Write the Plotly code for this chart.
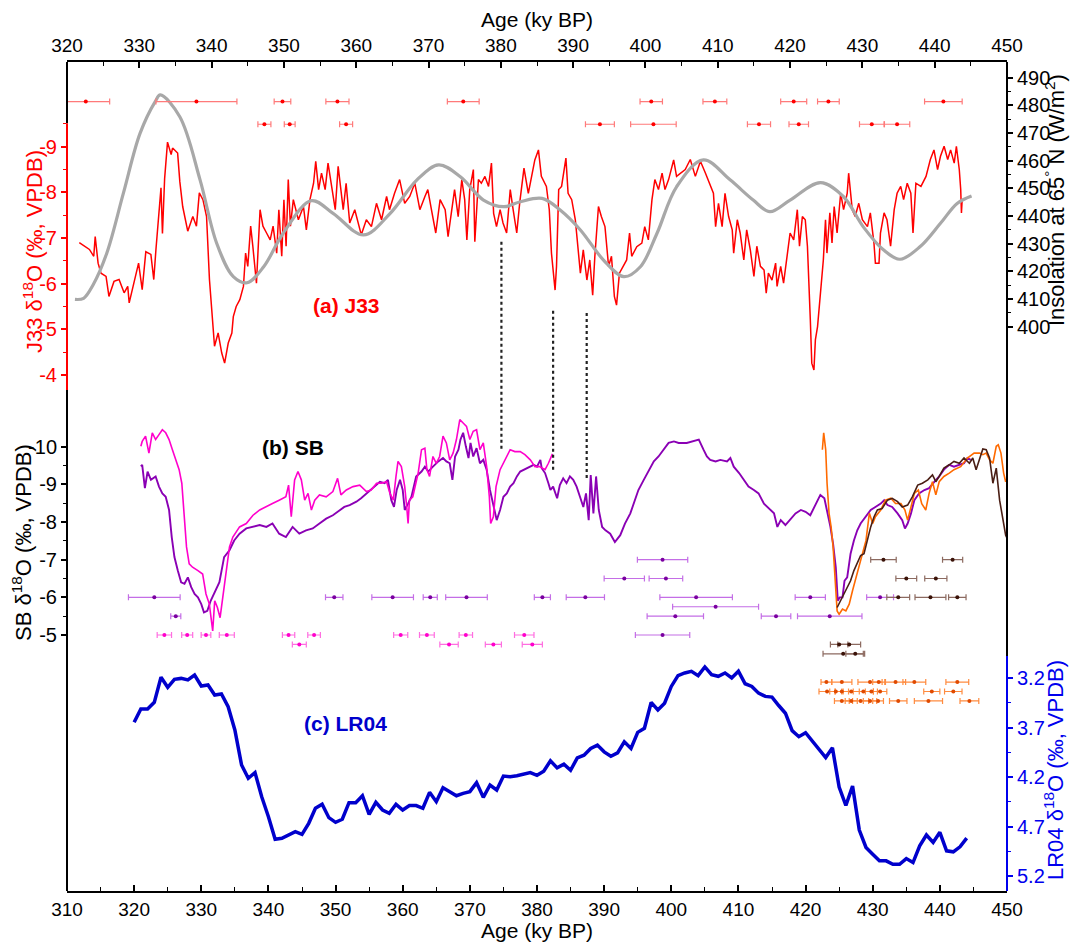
import plotly.graph_objects as go

# ---------------- J33 stalagmite d18O (upper age scale) ----------------
j33_age = [321.7, 323.1, 323.7, 323.9, 324.3, 324.7, 325.4, 325.8, 326.5, 327.2, 327.9, 328.4, 328.6, 329.3,
           329.9, 330.4, 330.9, 331.6, 332.0, 332.3, 333.0, 333.2, 333.5, 333.9, 334.4, 334.6, 335.3, 335.6,
           336.0, 336.7, 337.4, 337.9, 338.3, 338.8, 339.3, 339.7, 340.2, 340.4, 340.9, 341.4, 341.8, 342.3,
           342.8, 343.0, 343.4, 343.9, 344.4, 344.7, 345.0, 345.4, 345.7, 346.2, 346.7, 347.1, 347.6, 348.1,
           348.5, 349.0, 349.3, 349.7, 350.0, 350.3, 350.6, 350.9, 351.3, 352.0, 352.7, 353.1, 353.6, 354.1,
           354.4, 354.8, 355.2, 355.7, 356.1, 356.6, 357.1, 357.5, 358.2, 358.6, 359.1, 359.8, 360.7, 361.4,
           362.1, 362.8, 363.5, 364.2, 364.6, 365.3, 366.0, 366.7, 367.4, 368.1, 368.8, 369.5, 369.9, 370.4,
           371.0, 371.6, 372.3, 372.7, 373.2, 373.6, 374.1, 374.6, 375.0, 375.3, 375.7, 376.2, 376.4, 376.9,
           377.3, 377.8, 378.3, 378.7, 379.0, 379.4, 379.9, 380.3, 380.8, 381.3, 381.7, 382.2, 382.6, 383.2,
           383.8, 384.3, 384.7, 385.2, 385.6, 386.3, 386.7, 387.0, 387.3, 387.5, 387.7, 388.0, 388.4, 389.0,
           389.3, 389.8, 390.3, 390.7, 391.0, 391.4, 391.9, 392.3, 392.7, 393.0, 393.5, 393.9, 394.4, 394.9,
           395.3, 395.7, 396.0, 396.4, 396.9, 397.4, 397.8, 398.1, 398.8, 399.5, 399.9, 400.4, 400.9, 401.3,
           401.8, 402.3, 402.7, 403.2, 403.9, 404.3, 405.5, 406.2, 406.9, 407.6, 408.3, 409.0, 409.4, 409.7,
           410.1, 410.6, 411.0, 411.5, 412.0, 412.2, 412.7, 413.1, 413.6, 414.0, 414.5, 415.0, 415.4, 415.9,
           416.4, 416.7, 417.0, 417.5, 418.0, 418.2, 418.7, 419.1, 419.6, 420.0, 420.5, 421.0, 421.3, 421.7,
           422.1, 422.4, 422.8, 423.0, 423.3, 423.5, 423.8, 424.2, 424.6, 424.9, 425.1, 425.5, 425.8, 426.1,
           426.5, 427.0, 427.4, 427.9, 428.1, 428.6, 429.0, 429.5, 430.0, 430.7, 431.1, 431.6, 431.8, 432.3,
           432.5, 433.0, 433.4, 433.9, 434.4, 434.8, 435.3, 435.7, 436.2, 436.7, 437.0, 437.4, 438.1, 438.8,
           439.4, 439.9, 440.4, 440.8, 441.3, 441.8, 442.2, 442.7, 443.0, 443.4, 443.6, 443.7, 443.8]
j33_d18o = [-6.9, -6.75, -6.6, -7.03, -6.45, -6.23, -6.16, -5.72, -6.05, -6.09, -5.8, -5.94, -5.58, -6.05,
            -6.45, -5.87, -6.7, -6.64, -6.09, -6.75, -8.1, -7.1, -8.3, -9.1, -8.83, -8.97, -8.86, -8.24,
            -7.69, -7.15, -7.47, -7.26, -7.99, -7.84, -7.47, -6.09, -5.07, -4.63, -4.92, -4.48, -4.26, -4.7,
            -4.92, -5.28, -5.5, -5.65, -5.94, -6.67, -6.38, -7.26, -6.82, -6.01, -7.62, -7.26, -7.11, -6.96,
            -7.26, -6.67, -7.62, -6.6, -7.84, -6.82, -8.28, -7.26, -7.84, -7.4, -7.69, -7.18, -7.84, -8.2,
            -8.68, -8.06, -8.42, -8.06, -8.64, -8.13, -7.62, -8.57, -7.62, -8.2, -7.33, -7.62, -7.07, -7.4,
            -7.25, -7.76, -7.4, -7.91, -7.62, -7.98, -8.28, -7.76, -7.91, -8.2, -7.62, -7.91, -8.06, -7.62,
            -7.11, -7.84, -7.62, -7.03, -7.62, -8.06, -7.47, -8.28, -7.84, -6.96, -8.06, -8.5, -6.92, -8.28,
            -8.2, -8.35, -8.13, -8.64, -7.54, -7.25, -7.62, -7.33, -7.11, -8.06, -7.62, -7.11, -7.76, -8.53,
            -7.98, -8.35, -8.71, -8.93, -8.35, -8.13, -7.62, -6.67, -6.08, -5.86, -6.38, -8.06, -8.13, -8.75,
            -7.98, -7.84, -7.4, -6.67, -6.23, -6.74, -6.08, -6.52, -5.75, -6.6, -7.69, -7.47, -7.25, -6.38,
            -6.6, -5.72, -5.53, -6.23, -6.38, -6.52, -7.11, -6.6, -6.81, -6.89, -7.25, -6.96, -7.84, -8.28,
            -8.06, -8.42, -8.06, -8.28, -8.71, -8.35, -8.5, -8.72, -8.35, -8.68, -8.42, -8.13, -7.98, -7.25,
            -7.76, -7.25, -7.98, -7.47, -7.18, -6.67, -7.4, -7.11, -6.52, -7.18, -6.74, -6.16, -6.82, -6.38,
            -6.3, -5.79, -6.23, -6.08, -6.45, -5.94, -6.38, -6.01, -6.67, -7.11, -6.96, -7.62, -6.82, -7.47,
            -7.4, -6.82, -5.21, -4.26, -4.11, -4.77, -5.06, -5.79, -6.52, -7.4, -6.67, -7.55, -6.89, -7.69,
            -7.11, -7.98, -7.62, -7.98, -8.42, -7.62, -7.47, -7.76, -7.4, -7.25, -7.55, -6.89, -6.45, -6.45,
            -7.11, -7.55, -7.4, -6.82, -7.62, -7.98, -8.13, -7.84, -8.2, -7.98, -7.11, -8.2, -8.13, -8.35,
            -8.72, -8.93, -8.5, -8.79, -9.01, -8.72, -8.93, -8.64, -9.01, -8.5, -8.06, -7.55, -7.84]

# ---------------- 65 N summer insolation (upper age scale) ----------------
ins_age = [321.1, 322.3, 323.6, 325.5, 327.8, 330.1, 332.2, 332.9, 335.6, 338.4, 340.7, 343.0, 344.9, 347.2,
           349.9, 353.8, 356.8, 361.0, 364.7, 368.4, 371.4, 374.4, 377.6, 380.4, 382.7, 385.7, 388.2, 391.0,
           394.2, 397.0, 399.3, 401.6, 404.3, 408.0, 411.7, 414.9, 417.2, 420.0, 424.2, 427.4, 430.1, 432.9,
           435.2, 438.0, 440.8, 443.1, 445.1]
ins_wm2 = [409.8, 410.2, 415.0, 426.5, 448.2, 469.8, 481.3, 483.7, 475.8, 453.0, 430.1, 418.0, 415.8, 421.6,
           433.7, 445.5, 440.9, 433.1, 440.9, 453.0, 458.4, 454.1, 445.7, 443.3, 445.1, 446.3, 442.1, 434.9,
           424.0, 418.0, 421.6, 433.7, 450.5, 460.2, 453.0, 445.7, 441.5, 445.7, 452.0, 446.9, 436.1, 427.7,
           424.3, 428.9, 437.3, 444.5, 447.2]

# ---------------- J33 U-Th ages (two rows) ----------------
j33_date_age_1 = [322.6, 337.9, 349.8, 357.4, 374.8, 400.8, 409.6, 420.5, 425.3, 441.2]
j33_date_err_1 = [3.3, 5.6, 1.15, 1.6, 2.2, 1.55, 1.65, 1.8, 1.5, 2.6]
j33_date_age_2 = [347.3, 350.8, 358.6, 393.7, 401.1, 415.7, 421.2, 431.3, 434.8]
j33_date_err_2 = [0.9, 0.75, 0.9, 2.0, 3.15, 1.6, 1.35, 1.7, 1.75]
j33_date_row = [481.3, 473.1]

# ---------------- Sanbao (SB) records (lower age scale) ----------------
sb_purple_age = [321.0, 321.2, 321.6, 322.0, 322.5, 323.2, 323.7, 324.2, 324.7, 325.2, 325.6, 326.0, 326.5, 327.0,
                 327.5, 328.0, 328.5, 329.0, 329.5, 330.0, 330.4, 330.9, 331.4, 331.9, 332.7, 333.4, 334.2, 334.9,
                 335.7, 336.7, 337.7, 338.7, 339.7, 340.6, 341.6, 342.6, 343.6, 344.6, 345.6, 346.6, 347.6, 348.6,
                 349.6, 350.6, 351.3, 352.1, 353.1, 353.8, 354.6, 355.3, 356.1, 356.6, 357.3, 357.8, 358.3, 358.7,
                 359.1, 359.6, 360.0, 360.3, 360.8, 361.3, 362.0, 362.8, 363.3, 363.8, 364.5, 365.3, 366.0, 366.5,
                 367.0, 367.4, 367.8, 368.3, 368.6, 369.0, 369.4, 369.8, 370.1, 370.5, 371.0, 371.5, 372.0, 372.5,
                 373.0, 373.5, 374.0, 374.5, 375.0, 375.5, 376.0, 376.5, 377.0, 377.5, 378.0, 378.5, 379.0, 379.5,
                 380.0, 380.5, 380.7, 381.2, 381.7, 382.0, 382.4, 383.0, 383.4, 383.9, 384.4, 384.9, 385.4, 385.9,
                 386.4, 386.9, 387.3, 387.7, 388.0, 388.4, 388.8, 389.2, 389.7, 390.2, 390.9, 391.6, 392.4, 393.1,
                 393.9, 394.6, 395.1, 395.9, 396.6, 397.4, 398.1, 398.9, 399.6, 400.4, 401.1, 402.3, 403.3, 404.1,
                 404.8, 405.3, 405.8, 406.6, 407.3, 408.3, 408.8, 409.3, 410.1, 410.8, 411.5, 412.3, 413.0, 413.8,
                 414.5, 415.3, 415.8, 416.3, 417.0, 417.8, 418.5, 419.3, 420.0, 420.7, 421.5, 422.2, 422.8, 423.2,
                 423.7, 424.1, 424.5, 424.8, 425.1, 425.5, 425.8, 426.2, 426.7, 427.2, 427.7, 428.2, 428.9, 429.7,
                 430.4, 431.2, 431.7, 432.2, 432.9, 433.7, 434.4, 434.8, 435.2, 435.7, 436.2, 436.9, 437.7, 438.4,
                 439.2, 439.9, 440.6, 441.4, 442.1, 442.9, 443.6, 444.1, 444.6]
sb_purple_d18o = [-9.48, -9.52, -8.9, -9.34, -9.12, -9.21, -8.94, -8.76, -8.67, -8.32, -7.6, -7.07, -6.71, -6.4,
                  -6.36, -6.53, -6.27, -6.09, -6.0, -5.82, -5.6, -5.64, -5.91, -6.09, -6.4, -7.07, -7.25, -7.51,
                  -7.69, -7.83, -7.87, -7.92, -7.87, -7.96, -7.69, -7.6, -7.87, -7.69, -7.78, -7.83, -7.96, -8.09,
                  -8.18, -8.32, -8.4, -8.45, -8.54, -8.63, -8.76, -8.85, -8.98, -9.07, -9.03, -9.12, -8.58, -8.4,
                  -8.85, -9.12, -8.85, -8.32, -8.49, -8.67, -9.21, -9.34, -9.47, -9.34, -9.47, -9.61, -9.7, -9.61,
                  -9.56, -9.12, -9.74, -9.92, -10.19, -10.37, -10.01, -9.7, -10.1, -9.74, -9.96, -9.56, -9.65, -9.39,
                  -8.85, -8.4, -8.05, -8.32, -8.67, -8.76, -8.94, -9.03, -9.21, -9.34, -9.39, -9.43, -9.47, -9.52,
                  -9.47, -9.65, -9.43, -9.3, -9.03, -8.85, -8.94, -8.63, -8.98, -9.16, -9.03, -9.21, -9.12, -8.94,
                  -8.67, -8.4, -8.76, -8.05, -9.25, -8.23, -9.21, -8.32, -7.87, -7.78, -7.69, -7.47, -7.65, -7.96,
                  -8.23, -8.58, -8.85, -9.12, -9.34, -9.61, -9.74, -9.92, -10.1, -10.14, -10.1, -10.1, -10.14, -10.19,
                  -9.92, -9.74, -9.65, -9.61, -9.65, -9.61, -9.7, -9.47, -9.3, -9.12, -8.94, -8.85, -8.76, -8.49,
                  -8.36, -8.23, -7.87, -8.05, -7.92, -8.09, -8.23, -8.32, -8.27, -8.18, -8.49, -8.72, -8.63, -8.32,
                  -7.87, -7.42, -6.8, -5.91, -6.0, -6.0, -6.44, -6.53, -7.16, -7.51, -7.78, -7.96, -8.14, -8.32,
                  -8.4, -8.49, -8.58, -8.45, -8.4, -8.23, -8.05, -7.83, -7.96, -8.23, -8.58, -8.76, -8.85, -8.9,
                  -9.07, -9.21, -9.39, -9.52, -9.47, -9.52, -9.56, -9.7, -9.65]

sb_magenta_age = [321.0, 321.2, 321.7, 322.2, 322.7, 323.2, 323.7, 324.2, 324.7, 325.2, 325.7, 326.2, 326.7, 327.1,
                  327.5, 327.8, 328.2, 328.7, 329.5, 330.2, 330.7, 331.2, 331.7, 332.0, 332.4, 332.8, 333.2, 333.7,
                  334.2, 334.7, 335.7, 336.7, 337.7, 338.7, 339.7, 340.6, 341.6, 342.6, 343.0, 343.4, 343.9, 344.4,
                  344.9, 345.4, 345.9, 346.4, 346.9, 347.6, 348.6, 349.6, 350.3, 350.8, 351.6, 352.6, 353.6, 354.6,
                  355.3, 356.1, 356.8, 357.6, 358.1, 358.6, 359.0, 359.3, 359.8, 360.3, 360.6, 360.8, 361.0, 361.5,
                  362.3, 362.8, 363.3, 363.6, 364.0, 364.5, 365.0, 365.5, 366.0, 366.5, 367.0, 367.5, 368.0, 368.5,
                  369.0, 369.5, 370.0, 370.5, 371.0, 371.5, 372.0, 372.5, 372.9, 373.1, 373.5, 373.9, 374.5, 375.2,
                  376.0, 376.7, 377.5, 378.2, 379.0, 379.7, 380.4, 381.2, 381.7, 382.3]
sb_magenta_d18o = [-10.01, -10.14, -10.28, -9.83, -10.37, -10.19, -10.32, -10.45, -10.37, -10.19, -9.92, -9.65, -9.39,
                   -9.03, -8.14, -7.34, -6.89, -6.8, -6.71, -6.62, -6.09, -5.82, -5.11, -5.91, -5.73, -5.46, -6.0,
                   -6.62, -7.34, -7.6, -7.87, -7.96, -8.18, -8.32, -8.4, -8.49, -8.58, -8.67, -8.98, -8.14, -9.12,
                   -9.34, -9.12, -8.58, -8.76, -8.32, -8.58, -8.72, -8.67, -8.81, -9.16, -8.72, -8.85, -8.94, -8.98,
                   -8.81, -8.85, -9.03, -9.03, -9.07, -8.76, -8.58, -9.21, -9.61, -9.47, -8.94, -8.4, -7.96, -8.58,
                   -8.67, -9.3, -9.92, -9.96, -9.39, -9.21, -9.74, -9.56, -9.74, -10.28, -10.1, -9.65, -9.83, -10.19,
                   -10.72, -10.63, -10.54, -10.19, -10.41, -10.45, -9.92, -10.1, -9.47, -8.67, -7.96, -8.14, -8.94,
                   -9.39, -9.65, -9.92, -9.87, -9.87, -9.79, -9.65, -9.47, -9.47, -9.39, -9.56, -9.81]

sb_orange_age = [422.5, 422.7, 423.0, 423.2, 423.5, 423.8, 424.1, 424.5, 424.7, 425.0, 425.5, 426.0, 426.5, 427.0,
                 427.5, 428.0, 428.5, 429.0, 429.5, 430.0, 430.4, 431.2, 431.9, 432.7, 433.4, 434.2, 434.8, 435.2,
                 435.7, 436.2, 436.8, 437.3, 437.9, 438.4, 438.9, 439.4, 439.9, 440.6, 441.4, 442.1, 443.1, 444.1,
                 445.1, 445.9, 446.4, 446.9, 447.4, 447.9, 448.4, 448.7, 449.1, 449.5, 449.8, 450.2]
sb_orange_d18o = [-9.92, -10.37, -9.92, -9.03, -8.23, -7.87, -7.34, -6.27, -5.64, -5.55, -5.69, -5.64, -5.82, -6.18,
                  -6.53, -6.89, -7.16, -7.51, -8.23, -7.96, -8.14, -8.32, -8.58, -8.63, -8.49, -8.49, -8.32, -8.05,
                  -8.4, -8.76, -8.85, -8.49, -8.32, -8.76, -9.07, -8.72, -9.07, -9.21, -9.3, -9.39, -9.47, -9.7,
                  -9.83, -9.83, -9.79, -9.83, -9.65, -9.56, -10.01, -10.05, -9.83, -9.3, -9.07, -9.25]

sb_brown_age = [424.7, 425.2, 425.7, 426.2, 426.7, 427.2, 427.7, 428.2, 428.7, 429.2, 429.7, 430.2, 430.7, 431.4,
                432.2, 432.9, 433.7, 434.4, 435.2, 435.9, 436.7, 437.4, 438.2, 438.9, 439.4, 439.9, 440.6, 441.4,
                442.1, 442.9, 443.6, 444.4, 444.9, 445.4, 445.9, 446.4, 446.9, 447.4, 447.9, 448.4, 448.9, 449.4,
                449.8, 450.2]
sb_brown_d18o = [-5.73, -5.91, -6.09, -6.27, -6.44, -6.71, -6.89, -7.11, -7.16, -7.51, -7.87, -8.14, -8.32, -8.36,
                 -8.58, -8.63, -8.54, -8.4, -8.45, -8.67, -8.98, -9.03, -9.12, -9.25, -9.07, -9.21, -9.43, -9.52,
                 -9.61, -9.56, -9.7, -9.56, -9.7, -9.39, -9.7, -9.94, -9.92, -9.7, -9.03, -9.43, -8.58, -8.05,
                 -7.65, -7.5]

# ---------------- SB U-Th ages (age, 2-sigma, plotting row) ----------------
sb_purple_date_age = [323.0, 326.2, 349.8, 358.5, 364.1, 369.5, 380.8, 387.2, 398.7, 393.0, 399.2, 403.7,
                      406.6, 400.6, 398.7, 420.7, 431.1, 415.6, 423.6]
sb_purple_date_err = [3.85, 0.75, 1.3, 3.1, 1.05, 3.1, 1.2, 2.85, 3.75, 3.0, 2.5, 5.4,
                      6.4, 4.2, 4.05, 2.25, 2.0, 2.2, 4.8]
sb_purple_date_row = [-6.0, -5.5, -6.0, -6.0, -6.0, -6.0, -6.0, -6.0, -7.0, -6.5, -6.5, -6.0,
                      -5.75, -5.5, -5.0, -6.0, -6.0, -5.5, -5.5]

sb_magenta_date_age = [324.5, 327.9, 330.7, 333.8, 343.0, 346.8, 344.6, 359.7, 363.6, 369.4, 378.1,
                       366.9, 373.5, 379.3]
sb_magenta_date_err = [1.07, 0.82, 0.72, 1.12, 0.92, 0.94, 1.04, 1.05, 1.1, 1.0, 1.45, 1.37, 1.2, 1.5]
sb_magenta_date_row = [-5.0, -5.0, -5.0, -5.0, -5.0, -5.0, -4.75, -5.0, -5.0, -5.0, -5.0,
                       -4.75, -4.75, -4.75]

sb_brown_date_age = [431.6, 441.9, 435.0, 439.4, 433.8, 438.6, 442.6, 425.0, 426.5, 425.6, 427.4]
sb_brown_date_err = [1.9, 1.5, 1.55, 1.65, 1.7, 2.3, 1.3, 1.3, 1.7, 3.0, 1.4]
sb_brown_date_row = [-7.0, -7.0, -6.5, -6.5, -6.0, -6.0, -6.0, -4.75, -4.75, -4.5, -4.5]

sb_orange_date_age = [423.1, 425.4, 429.6, 430.9, 433.4, 436.2, 442.6,
                      423.2, 424.5, 425.4, 426.8, 428.6, 429.8, 431.1, 438.8, 442.0,
                      425.4, 426.8, 428.2, 429.6, 430.8, 433.8, 438.3, 444.4]
sb_orange_date_err = [0.8, 1.5, 1.8, 0.9, 1.5, 1.7, 1.7,
                      1.2, 0.9, 1.0, 1.2, 1.5, 0.9, 1.0, 1.2, 1.3,
                      1.1, 0.9, 1.2, 1.0, 0.8, 1.3, 2.1, 1.4]
sb_orange_date_row = [-3.75] * 7 + [-3.5] * 9 + [-3.25] * 8

# ---------------- LR04 benthic stack (lower age scale) ----------------
lr04_age = list(range(320, 445))
lr04_d18o = [3.647, 3.513, 3.513, 3.446, 3.193, 3.294, 3.213, 3.204, 3.22, 3.17, 3.281, 3.27, 3.372, 3.361,
             3.49, 3.725, 4.079, 4.213, 4.156, 4.399, 4.601, 4.829, 4.819, 4.786, 4.752, 4.779, 4.668, 4.516,
             4.476, 4.611, 4.658, 4.627, 4.459, 4.459, 4.389, 4.577, 4.456, 4.533, 4.567, 4.476, 4.533, 4.489,
             4.489, 4.516, 4.355, 4.449, 4.308, 4.348, 4.389, 4.365, 4.348, 4.257, 4.405, 4.281, 4.331, 4.19,
             4.197, 4.187, 4.173, 4.156, 4.183, 4.142, 4.037, 4.108, 4.071, 4.132, 4.007, 3.98, 3.912, 3.878,
             3.946, 3.99, 3.956, 3.844, 3.912, 3.749, 3.708, 3.447, 3.522, 3.454, 3.285, 3.176, 3.149, 3.132,
             3.176, 3.088, 3.166, 3.183, 3.149, 3.2, 3.132, 3.258, 3.285, 3.353, 3.386, 3.393, 3.478, 3.556,
             3.732, 3.793, 3.753, 3.837, 3.922, 4.003, 3.905, 4.302, 4.488, 4.292, 4.736, 4.912, 4.98, 5.047,
             5.047, 5.081, 5.081, 5.024, 5.064, 4.895, 4.786, 4.861, 4.759, 4.946, 4.956, 4.905, 4.817]

# Ages of the dotted tie lines between J33 and SB, with their SB-axis extents
tie_age = [374.7, 382.4, 387.4]
tie_top = [-15.44, -13.61, -13.55]
tie_bottom = [-9.94, -9.36, -9.17]

# ---------------- page geometry ----------------
W, H = 1071, 943
LEFT, RIGHT, TOP, BOTTOM = 67, 1007, 62, 891
FONT = "Liberation Sans, Arial, sans-serif"
RED, BLUE = "#ff0000", "#0000ee"
J33_TOP, J33_BOT = 123.3, 390.0   # pixel rows of the red J33 axis segment
SPLIT = 656.0                     # pixel row where the right axis turns from black to blue


def px(x):
    return (x - LEFT) / (RIGHT - LEFT)


def py(y):
    return (BOTTOM - y) / (BOTTOM - TOP)


def axis_span(v1, p1, v2, p2):
    """Full-height axis range [bottom, top] from two tick values and their pixel rows."""
    k = (v2 - v1) / (p2 - p1)
    return [v1 + (BOTTOM - p1) * k, v1 + (TOP - p1) * k]


fig = go.Figure()

# insolation curve
fig.add_trace(go.Scatter(x=ins_age, y=ins_wm2, xaxis="x2", yaxis="y3", mode="lines",
                         line=dict(color="#a8a8a8", width=3.2, shape="spline", smoothing=1.0),
                         hoverinfo="skip", showlegend=False))
# J33 record
fig.add_trace(go.Scatter(x=j33_age, y=j33_d18o, xaxis="x2", yaxis="y2", mode="lines",
                         line=dict(color=RED, width=1.5), showlegend=False))
# J33 dating
for ages, errs, row in [(j33_date_age_1, j33_date_err_1, j33_date_row[0]),
                        (j33_date_age_2, j33_date_err_2, j33_date_row[1])]:
    fig.add_trace(go.Scatter(x=ages, y=[row] * len(ages), xaxis="x2", yaxis="y3", mode="markers",
                             marker=dict(color=RED, size=4), cliponaxis=False,
                             error_x=dict(type="data", array=errs, color="#ff7a7a", thickness=1.2, width=3),
                             showlegend=False))

# SB records
fig.add_trace(go.Scatter(x=sb_purple_age, y=sb_purple_d18o, xaxis="x", yaxis="y", mode="lines",
                         line=dict(color="#8a00b4", width=1.9), showlegend=False))
fig.add_trace(go.Scatter(x=sb_magenta_age, y=sb_magenta_d18o, xaxis="x", yaxis="y", mode="lines",
                         line=dict(color="#ff00cc", width=1.6), showlegend=False))
fig.add_trace(go.Scatter(x=sb_orange_age, y=sb_orange_d18o, xaxis="x", yaxis="y", mode="lines",
                         line=dict(color="#ff6a00", width=1.6), showlegend=False))
fig.add_trace(go.Scatter(x=sb_brown_age, y=sb_brown_d18o, xaxis="x", yaxis="y", mode="lines",
                         line=dict(color="#4a1e14", width=1.6), showlegend=False))

# SB dating
for ages, errs, rows, dot, bar in [
        (sb_purple_date_age, sb_purple_date_err, sb_purple_date_row, "#7a00a0", "#c46ee6"),
        (sb_magenta_date_age, sb_magenta_date_err, sb_magenta_date_row, "#ff00cc", "#ff6ee0"),
        (sb_brown_date_age, sb_brown_date_err, sb_brown_date_row, "#3a1208", "#8c6a60"),
        (sb_orange_date_age, sb_orange_date_err, sb_orange_date_row, "#e04a00", "#ff8c40")]:
    fig.add_trace(go.Scatter(x=ages, y=rows, xaxis="x", yaxis="y", mode="markers",
                             marker=dict(color=dot, size=4),
                             error_x=dict(type="data", array=errs, color=bar, thickness=1.2, width=3),
                             showlegend=False))

# LR04
fig.add_trace(go.Scatter(x=lr04_age, y=lr04_d18o, xaxis="x", yaxis="y4", mode="lines",
                         line=dict(color="#0000cc", width=3.5), showlegend=False))

TICK_SIZE = 19


def tfont(color="black"):
    return dict(family=FONT, size=TICK_SIZE, color=color)


def hyphen(vals):
    return ["{:g}".format(v) for v in vals]


common_x = dict(showgrid=False, zeroline=False, showline=True, linecolor="black", linewidth=2,
                ticks="inside", ticklen=6, tickwidth=1.5, tickcolor="black", tickfont=tfont(),
                automargin=False)


def y_axis(color, ticks, minor_ticks, span, side, **kw):
    d = dict(showgrid=False, zeroline=False, showline=False, ticks="outside", ticklen=5, tickwidth=1.5,
             tickcolor=color, tickfont=dict(family=FONT, size=20, color=color), automargin=False,
             side=side, range=span, tickmode="array", tickvals=ticks, ticktext=hyphen(ticks),
             minor=dict(tickmode="array", tickvals=minor_ticks, ticks="outside", ticklen=3,
                        tickcolor=color, tickwidth=1.2))
    d.update(kw)
    return d


sb_ticks = [-10, -9, -8, -7, -6, -5]
j33_ticks = [-9, -8, -7, -6, -5, -4]
ins_ticks = list(range(400, 491, 10))
lr_ticks = [3.2, 3.7, 4.2, 4.7, 5.2]

fig.update_layout(
    width=W, height=H,
    margin=dict(l=LEFT, r=W - RIGHT, t=TOP, b=H - BOTTOM, pad=0),
    paper_bgcolor="white", plot_bgcolor="white",
    showlegend=False,
    xaxis=dict(range=[310, 450], domain=[0, 1], anchor="y", tickmode="linear", tick0=310, dtick=10,
               minor=dict(tickmode="linear", tick0=305, dtick=10, ticks="inside", ticklen=4,
                          tickcolor="black", tickwidth=1.2),
               **common_x),
    xaxis2=dict(range=[320, 450], overlaying="x", side="top", anchor="y", tickmode="linear", tick0=320,
                dtick=10, minor=dict(tickmode="linear", tick0=325, dtick=10, ticks="inside", ticklen=4,
                                     tickcolor="black", tickwidth=1.2),
                **common_x),
    yaxis=y_axis("black", sb_ticks, [-9.5, -8.5, -7.5, -6.5, -5.5],
                 axis_span(-10, 446.7, -5, 635.0), "left", domain=[0, 1], anchor="x"),
    yaxis2=y_axis(RED, j33_ticks, [-9.5, -8.5, -7.5, -6.5, -5.5, -4.5],
                  axis_span(-9, 146.7, -4, 375.0), "left", overlaying="y", anchor="x"),
    yaxis3=y_axis("black", ins_ticks, list(range(405, 490, 10)),
                  axis_span(490, 77.5, 400, 326.5), "right", overlaying="y", anchor="x"),
    yaxis4=y_axis(BLUE, lr_ticks, [3.45, 3.95, 4.45, 4.95],
                  axis_span(3.2, 678.0, 5.2, 876.0), "right", overlaying="y", anchor="x",
                  ticktext=["3.2", "3.7", "4.2", "4.7", "5.2"]),
)

# left and right frame lines, coloured by the axis each stretch belongs to
for x, y0, y1, c in [(0, TOP, J33_TOP, "black"), (0, J33_TOP, J33_BOT, RED), (0, J33_BOT, BOTTOM, "black"),
                     (1, TOP, SPLIT, "black"), (1, SPLIT, BOTTOM, BLUE)]:
    fig.add_shape(type="line", xref="paper", yref="paper", x0=x, x1=x, y0=py(y0), y1=py(y1),
                  line=dict(color=c, width=2))

# dotted tie lines
for a, t, b in zip(tie_age, tie_top, tie_bottom):
    fig.add_shape(type="line", xref="x", yref="y", x0=a, x1=a, y0=t, y1=b,
                  line=dict(color="#222222", width=2.2, dash="dot"))


def label(text, x, y, color="black", size=21, angle=0, bold=False):
    if bold:
        text = "<b>" + text + "</b>"
    fig.add_annotation(text=text, x=px(x), y=py(y), xref="paper", yref="paper", showarrow=False,
                       xanchor="center", yanchor="middle", textangle=angle,
                       font=dict(family=FONT, size=size, color=color))


label("Age (ky BP)", 537, 19)
label("Age (ky BP)", 537, 930)
label("J33 δ<sup>18</sup>O (‰, VPDB)", 33, 252, color=RED, size=22, angle=-90)
label("SB δ<sup>18</sup>O (‰, VPDB)", 22, 543, size=22, angle=-90)
label("Insolation at 65<sup>°</sup> N (W/m<sup>2</sup>)", 1055, 200, size=22, angle=-90)
label("LR04 δ<sup>18</sup>O (‰, VPDB)", 1054, 770, color=BLUE, size=22, angle=-90)
label("(a) J33", 346, 305, color=RED, bold=True)
label("(b) SB", 293, 447, bold=True)
label("(c) LR04", 345, 723, color="#0000cc", bold=True)

fig.write_html("out.html")
